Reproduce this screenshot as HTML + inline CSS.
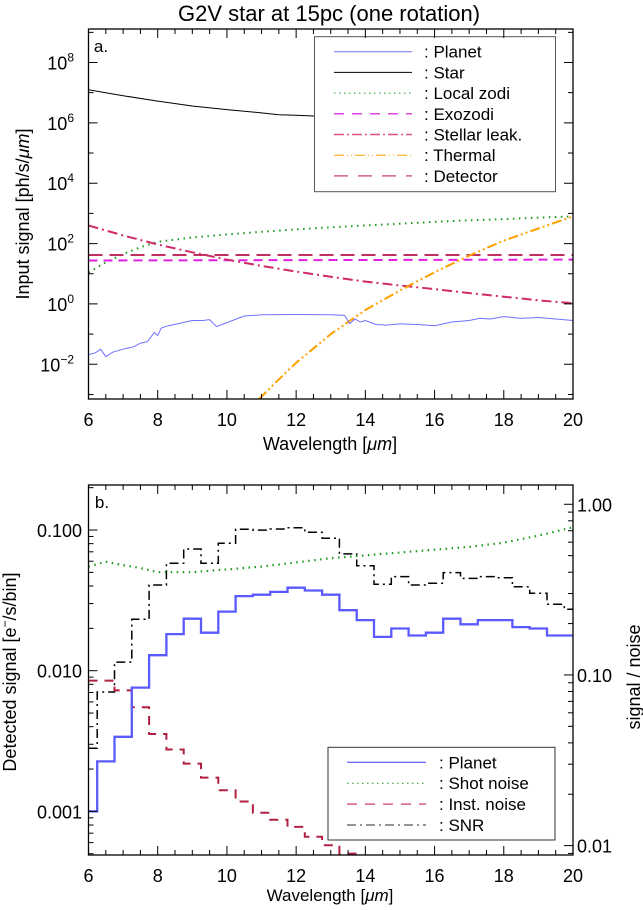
<!DOCTYPE html>
<html><head><meta charset="utf-8"><style>
body{margin:0;background:#fff;overflow:hidden;}
svg{display:block;font-family:"Liberation Sans",sans-serif;}
</style></head><body>
<svg id="c" width="643" height="910" viewBox="0 0 643 910" xmlns="http://www.w3.org/2000/svg">
<rect width="643" height="910" fill="#fff"/>
<text x="329" y="21" font-size="22" text-anchor="middle">G2V star at 15pc (one rotation)</text>
<g id="top"></g>
<g id="bot"></g>
</svg>
<script>
// ---- Panel a data (log10 values) ----
const starWl = [6, 7, 8, 9, 10, 11, 11.5, 12, 13, 14];
const starLog = [7.1, 6.9, 6.72, 6.56, 6.44, 6.33, 6.27, 6.25, 6.2, 6.15];
const zodiWl = [6, 6.5, 7, 7.5, 8, 9, 10, 11, 12, 13, 14, 15, 16, 17, 18, 19, 20];
const zodiLog = [1.04, 1.38, 1.65, 1.88, 2.06, 2.2, 2.3, 2.39, 2.47, 2.54, 2.6, 2.66, 2.72, 2.77, 2.81, 2.86, 2.9];
const exozodiWl = [6, 20];
const exozodiLog = [1.44, 1.47];
const detectorWl = [6, 20];
const detectorLog = [1.62, 1.62];
const leakWl = [6, 7, 8, 9, 10, 11, 12, 13, 14, 15, 16, 17, 18, 19, 20];
const leakLog = [2.6, 2.27, 1.97, 1.71, 1.47, 1.26, 1.07, 0.9, 0.74, 0.61, 0.49, 0.36, 0.24, 0.12, 0.02];
const thermWl = [10.93, 11.5, 12, 13, 14, 15, 16, 17, 18, 19, 20];
const thermLog = [-3.15, -2.5, -1.95, -1.0, -0.2, 0.45, 1.05, 1.6, 2.1, 2.5, 2.9];
const planetWl = [6, 6.2, 6.35, 6.5, 6.7, 7, 7.3, 7.5, 7.7, 7.8, 7.9, 8.0, 8.1, 8.3, 8.6, 9, 9.3, 9.5, 9.7, 10, 10.5, 11, 12, 13, 13.4, 13.55, 13.7, 13.85, 14, 14.3, 14.6, 15, 15.5, 16, 16.5, 17, 17.3, 17.6, 18, 18.5, 19, 19.5, 20];
const planetLog = [-1.68, -1.62, -1.5, -1.75, -1.6, -1.5, -1.42, -1.3, -1.25, -1.1, -0.95, -1.05, -0.8, -0.72, -0.65, -0.55, -0.55, -0.52, -0.75, -0.62, -0.4, -0.36, -0.35, -0.36, -0.38, -0.65, -0.5, -0.6, -0.55, -0.68, -0.7, -0.66, -0.68, -0.72, -0.6, -0.55, -0.48, -0.5, -0.42, -0.48, -0.45, -0.5, -0.55];

// ---- Panel b data (log10 values, binned at 0.5 um) ----
const binWl = [6,6.5,7,7.5,8,8.5,9,9.5,10,10.5,11,11.5,12,12.5,13,13.5,14,14.5,15,15.5,16,16.5,17,17.5,18,18.5,19,19.5,20];
const planetB = [-3.0,-2.645,-2.47,-2.12,-1.89,-1.74,-1.63,-1.73,-1.58,-1.47,-1.46,-1.44,-1.41,-1.43,-1.46,-1.57,-1.64,-1.76,-1.70,-1.75,-1.73,-1.63,-1.67,-1.64,-1.64,-1.69,-1.70,-1.75,-1.75];
const instB = [-2.07,-2.07,-2.14,-2.26,-2.45,-2.56,-2.66,-2.76,-2.85,-2.93,-3.01,-3.06,-3.11,-3.18,-3.24,-3.30,-3.36,-3.42,-3.48,-3.54,-3.6,-3.66,-3.72,-3.78,-3.84,-3.9,-3.96,-4.02,-4.08];
const snrB = [-1.43,-1.10,-0.925,-0.674,-0.473,-0.346,-0.262,-0.346,-0.228,-0.146,-0.151,-0.145,-0.137,-0.164,-0.199,-0.291,-0.36,-0.469,-0.424,-0.473,-0.463,-0.40,-0.434,-0.424,-0.43,-0.483,-0.521,-0.586,-0.615];
const shotWl = [6,6.5,7,7.5,8,9,10,11,12,13,14,15,16,17,18,19,20];
const shotLog = [-1.26,-1.225,-1.25,-1.27,-1.30,-1.30,-1.28,-1.26,-1.23,-1.20,-1.18,-1.16,-1.14,-1.12,-1.09,-1.04,-0.98];

const xTicks = [6, 8, 10, 12, 14, 16, 18, 20];
const topYTicks = [-2, 0, 2, 4, 6, 8];
const botLeftTicks = ["0.001", "0.010", "0.100"];
const botRightTicks = ["0.01", "0.10", "1.00"];

const NS = "http://www.w3.org/2000/svg";
const X0 = 88.5, X1 = 573;
function sx(w){ return X0 + (w - 6) / 14 * (X1 - X0); }
const T0 = 29, T1 = 399, tMin = -3.15, tMax = 9.11;
function tyA(v){ return T1 - (v - tMin) / (tMax - tMin) * (T1 - T0); }
const B0 = 485, B1 = 855, lMin = -3.31, lMax = -0.68, rMin = -2.055, rMax = 0.113;
function tyL(v){ return B1 - (v - lMin) / (lMax - lMin) * (B1 - B0); }
function tyR(v){ return B1 - (v - rMin) / (rMax - rMin) * (B1 - B0); }

function mk(parentEl, tag, attrs){
  const e = document.createElementNS(NS, tag);
  for (const k in attrs) e.setAttribute(k, attrs[k]);
  parentEl.appendChild(e);
  return e;
}
function path(parentEl, d, stroke, w, dash, name){
  const p = mk(parentEl, "path", {d: d, fill: "none", stroke: stroke, "stroke-width": w});
  if (dash) p.setAttribute("stroke-dasharray", dash);
  
  
  return p;
}
function lineD(xs, ys, fy){
  return xs.map((w, i) => (i ? "L" : "M") + sx(w).toFixed(1) + " " + fy(ys[i]).toFixed(1)).join(" ");
}
function stepD(xs, ys, fy){
  let d = "";
  for (let i = 0; i < xs.length; i++){
    const a = Math.max(6, xs[i] - 0.25), b = Math.min(20, xs[i] + 0.25);
    const y = fy(ys[i]).toFixed(1);
    d += (i ? "L" : "M") + sx(a).toFixed(1) + " " + y + " L" + sx(b).toFixed(1) + " " + y + " ";
  }
  return d;
}
function txt(parentEl, x, y, s, size, anchor, name){
  const t = mk(parentEl, "text", {x: x, y: y, "font-size": size, "text-anchor": anchor || "start"});
  t.textContent = s;
  
  
  return t;
}
const svgEl = document.getElementById("c");
const defs = mk(svgEl, "defs", {});
const cpA = mk(defs, "clipPath", {id: "clipA"}); mk(cpA, "rect", {x: X0, y: T0, width: X1 - X0, height: T1 - T0});
const cpB = mk(defs, "clipPath", {id: "clipB"}); mk(cpB, "rect", {x: X0, y: B0, width: X1 - X0, height: B1 - B0});

// ===== Panel a =====
const topG = document.getElementById("top");
const ga = mk(topG, "g", {"clip-path": "url(#clipA)"});


path(ga, lineD(starWl, starLog, tyA), "#000", 1, null, "star-line");
path(ga, lineD(zodiWl, zodiLog, tyA), "#1a9a1a", 2, "1.5 4.5", "local-zodi-line");
path(ga, lineD(detectorWl, detectorLog, tyA), "#c03060", 2, "14 7", "detector-line");
path(ga, lineD(exozodiWl, exozodiLog, tyA), "#e020e0", 2, "9 6", "exozodi-line");
path(ga, lineD(leakWl, leakLog, tyA), "#d02a6a", 2, "10 4 2 4", "stellar-leak-line");
path(ga, lineD(thermWl, thermLog, tyA), "#ffa000", 2, "10 3 2 3 2 3", "thermal-line");
path(ga, lineD(planetWl, planetLog, tyA), "#7070ff", 1, null, "planet-line");

// legend a
const la = mk(topG, "g", {});


mk(la, "rect", {x: 314.5, y: 36.7, width: 241, height: 155, fill: "#fff", stroke: "#555", "stroke-width": 1});
const legA = [["Planet","#7070ff",1,null],["Star","#000",1,null],["Local zodi","#1a9a1a",1,"1.5 3.5"],["Exozodi","#e040e0",1.5,"10 8"],["Stellar leak.","#e0508a",1.5,"10 3 2 3"],["Thermal","#ffa000",1,"10 3 1 3 1 3"],["Detector","#d06080",1.5,"14 10"]];
legA.forEach((e, i) => {
  const y = 51.7 + i * 20.7;
  path(la, "M334 " + y + " L412 " + y, e[1], e[2], e[3], "legend-line-" + i);
  txt(la, 424, y + 6, ": " + e[0], 17, "start", "legend-label-" + i);
});

// axes a
const axA = mk(topG, "g", {});


mk(axA, "rect", {x: X0, y: T0, width: X1 - X0, height: T1 - T0, fill: "none", stroke: "#000", "stroke-width": 1.3});
for (let w = 6; w <= 20.001; w += 0.5){
  const x = sx(w), L = (Math.abs(w % 2) < 0.01) ? 9 : 5;
  path(axA, `M${x} ${T1} L${x} ${T1-L} M${x} ${T0} L${x} ${T0+L}`, "#000", 1, null, "x-tick-a");
}
for (let v = -3; v <= 9; v++){
  const y = tyA(v), L = (v % 2 === 0) ? 9 : 5;
  path(axA, `M${X0} ${y} L${X0+L} ${y} M${X1} ${y} L${X1-L} ${y}`, "#000", 1, null, "y-tick-a");
}
xTicks.forEach(w => txt(axA, sx(w), 426, String(w), 18, "middle", "x-tick-label-a"));
topYTicks.forEach(v => {
  const t = txt(axA, 74, tyA(v) + 7, "10", 18, "end", "y-tick-label-a");
  const s = mk(t, "tspan", {dy: -8, "font-size": 12}); s.textContent = String(v).replace("-", "\u2212");
});
txt(axA, 101, 52, "a.", 17, "middle", "panel-a-label");
const xlA = txt(axA, 330, 450, "Wavelength [", 18, "middle", "x-axis-title-a");
let sp = mk(xlA, "tspan", {"font-style": "italic"}); sp.textContent = "\u03bcm"; sp = mk(xlA, "tspan", {}); sp.textContent = "]";
const ylA = txt(axA, 0, 0, "Input signal [ph/s/", 18, "middle", "y-axis-title-a");
ylA.setAttribute("transform", "translate(29 214) rotate(-90)");
sp = mk(ylA, "tspan", {"font-style": "italic"}); sp.textContent = "\u03bcm"; sp = mk(ylA, "tspan", {}); sp.textContent = "]";

// ===== Panel b =====
const botG = document.getElementById("bot");
const gb = mk(botG, "g", {"clip-path": "url(#clipB)"});


path(gb, stepD(binWl, snrB, tyR), "#000", 1.5, "9 4 2 4", "snr-steps");
path(gb, lineD(shotWl, shotLog, tyL), "#1a9a1a", 2.2, "1.5 4.5", "shot-noise-line");
path(gb, stepD(binWl, instB, tyL), "#b02040", 2, "9 7", "inst-noise-steps");
path(gb, stepD(binWl, planetB, tyL), "#5a5aff", 2.3, null, "planet-steps");

// legend b
const lb = mk(botG, "g", {});


mk(lb, "rect", {x: 328, y: 747.3, width: 227, height: 92.7, fill: "#fff", stroke: "#333", "stroke-width": 1});
const legB = [["Planet","#7070ff",1.3,null],["Shot noise","#1a9a1a",1,"1.5 3.5"],["Inst. noise","#d06080",1.5,"10 8"],["SNR","#555",1.3,"9 4 2 4"]];
legB.forEach((e, i) => {
  const y = 762.3 + i * 20.9;
  path(lb, "M347 " + y + " L426 " + y, e[1], e[2], e[3], "legend-b-line-" + i);
  txt(lb, 439, y + 6, ": " + e[0], 17, "start", "legend-b-label-" + i);
});

// axes b
const axB = mk(botG, "g", {});


mk(axB, "rect", {x: X0, y: B0, width: X1 - X0, height: B1 - B0, fill: "none", stroke: "#000", "stroke-width": 1.3});
for (let w = 6; w <= 20.001; w += 0.5){
  const x = sx(w), L = (Math.abs(w % 2) < 0.01) ? 9 : 5;
  path(axB, `M${x} ${B1} L${x} ${B1-L} M${x} ${B0} L${x} ${B0+L}`, "#000", 1, null, "x-tick-b");
}
for (let d = -4; d <= 0; d++){
  for (let m = 1; m <= 9; m++){
    const v = d + Math.log10(m);
    if (v >= lMin && v <= lMax){ const y = tyL(v); path(axB, `M${X0} ${y} L${X0 + (m===1?9:5)} ${y}`, "#000", 1, null, "left-tick-b"); }
    if (v >= rMin && v <= rMax){ const y = tyR(v); path(axB, `M${X1} ${y} L${X1 - (m===1?9:5)} ${y}`, "#000", 1, null, "right-tick-b"); }
  }
}
xTicks.forEach(w => txt(axB, sx(w), 882, String(w), 18, "middle", "x-tick-label-b"));
botLeftTicks.forEach(s => txt(axB, 82, tyL(Math.log10(parseFloat(s))) + 7, s, 18, "end", "left-tick-label-b"));
botRightTicks.forEach(s => txt(axB, 577, tyR(Math.log10(parseFloat(s))) + 7, s, 18, "start", "right-tick-label-b"));
txt(axB, 102, 508, "b.", 17, "middle", "panel-b-label");
const xlB = txt(axB, 330, 901, "Wavelength [", 17, "middle", "x-axis-title-b");
sp = mk(xlB, "tspan", {"font-style": "italic"}); sp.textContent = "\u03bcm"; sp = mk(xlB, "tspan", {}); sp.textContent = "]";
const ylB = txt(axB, 0, 0, "Detected signal [e", 18, "middle", "y-axis-title-b");
ylB.setAttribute("transform", "translate(16 672) rotate(-90)");
sp = mk(ylB, "tspan", {dy: -7, "font-size": 12}); sp.textContent = "\u2212"; sp = mk(ylB, "tspan", {dy: 7}); sp.textContent = "/s/bin]";
const yrB = txt(axB, 0, 0, "signal / noise", 18, "middle", "y-axis-title-right-b");
yrB.setAttribute("transform", "translate(640 677) rotate(-90)");
</script>
</body></html>
